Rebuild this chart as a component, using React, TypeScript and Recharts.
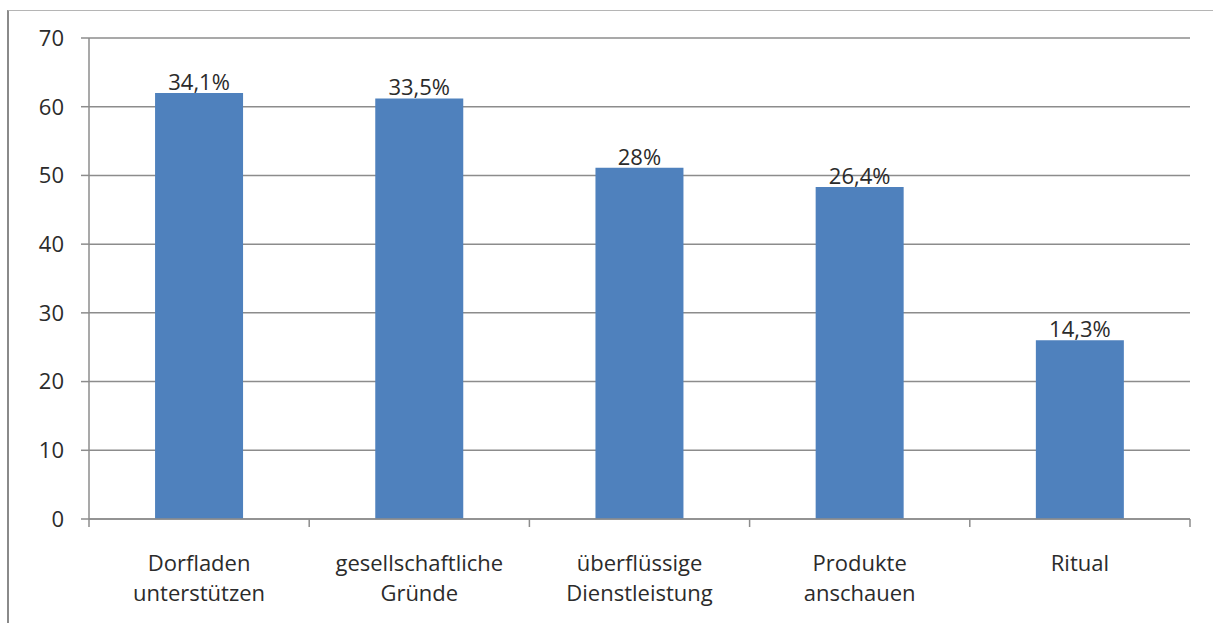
import { BarChart, Bar, XAxis, YAxis, CartesianGrid, LabelList } from "recharts";

const categories = [
  ["Dorfladen", "unterstützen"],
  ["gesellschaftliche", "Gründe"],
  ["überflüssige", "Dienstleistung"],
  ["Produkte", "anschauen"],
  ["Ritual"],
];
const values = [62, 61.2, 51.1, 48.3, 26];
const percentLabels = ["34,1%", "33,5%", "28%", "26,4%", "14,3%"];
const yTicks = [0, 10, 20, 30, 40, 50, 60, 70];

const data = categories.map((c, i) => ({
  name: c.join(" "),
  lines: c,
  value: values[i],
  label: percentLabels[i],
}));

const FONT = "'Open Sans', 'Liberation Sans', sans-serif";
const GRID = "#8c8c8c";
const TEXT = "#2b2b2b";
const BAND = (1190 - 89) / categories.length;

const CategoryTick = (props: any) => {
  const { x, y, payload, index } = props;
  const lines = categories[index] || [payload.value];
  return (
    <g>
      <line x1={x - BAND / 2} x2={x - BAND / 2} y1={y - 8} y2={y} stroke={GRID} strokeWidth={1.5} />
      {index === categories.length - 1 && (
        <line x1={x + BAND / 2} x2={x + BAND / 2} y1={y - 8} y2={y} stroke={GRID} strokeWidth={1.5} />
      )}
      <text x={x} y={y} textAnchor="middle" fill={TEXT} fontSize={22} fontFamily={FONT}>
        {lines.map((l: string, i: number) => (
          <tspan key={i} x={x} dy={i === 0 ? 44 : 30}>
            {l}
          </tspan>
        ))}
      </text>
    </g>
  );
};

export default function App() {
  return (
    <div style={{ position: "absolute", left: 0, top: 0, width: 1213, height: 623, background: "#fff" }}>
      <div
        style={{
          position: "absolute",
          left: 7,
          top: 10,
          width: 1206,
          height: 613,
          borderLeft: "2px solid #8a8a8a",
          borderTop: "1.5px solid #b5b5b5",
          boxSizing: "border-box",
        }}
      />
      <BarChart
        width={1213}
        height={623}
        data={data}
        margin={{ top: 38, right: 23, left: 0, bottom: 0 }}
        barCategoryGap="30%"
        style={{ position: "absolute", left: 0, top: 0 }}
      >
        <CartesianGrid vertical={false} stroke={GRID} strokeWidth={1.5} />
        <XAxis
          dataKey="name"
          height={104}
          axisLine={{ stroke: GRID, strokeWidth: 1.5 }}
          tickLine={false}
          tick={<CategoryTick />}
          interval={0}
        />
        <YAxis
          width={89}
          domain={[0, 70]}
          ticks={yTicks}
          axisLine={{ stroke: GRID, strokeWidth: 1.5 }}
          tickLine={{ stroke: GRID, strokeWidth: 1.5 }}
          tickSize={8}
          tickMargin={17}
          tick={{ fill: TEXT, fontSize: 22, fontFamily: FONT }}
        />
        <Bar dataKey="value" fill="#4f81bd" isAnimationActive={false}>
          <LabelList
            dataKey="label"
            position="top"
            offset={3}
            fill={TEXT}
            fontSize={22}
            fontFamily={FONT}
          />
        </Bar>
      </BarChart>
    </div>
  );
}
